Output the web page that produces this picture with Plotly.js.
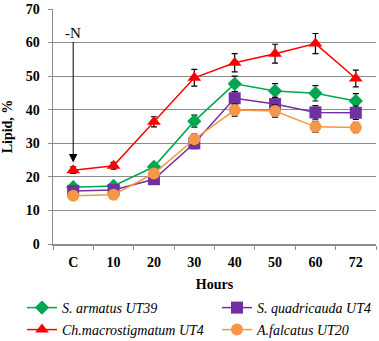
<!DOCTYPE html>
<html>
<head>
<meta charset="utf-8">
<script src="https://cdn.plot.ly/plotly-3.0.1.min.js"></script>
<style>html,body{margin:0;padding:0;background:#fff;}#chart{width:379px;height:341px;}</style>
</head>
<body>
<div id="chart"></div>
<script>
var categories = ['C', '10', '20', '30', '40', '50', '60', '72'];
var seriesNames = ['S. armatus UT39', 'S. quadricauda UT4', 'Ch.macrostigmatum UT4', 'A.falcatus UT20'];
var armatus = [16.9, 17.3, 23.0, 36.6, 47.7, 45.6, 44.9, 42.6];
var armatusErr = [0.6, 0.6, 0.8, 1.8, 2.3, 2.2, 2.3, 2.2];
var quadricauda = [15.8, 16.1, 19.3, 30.0, 43.4, 41.7, 39.2, 39.1];
var quadricaudaErr = [0.8, 0.8, 0.8, 1.6, 2.0, 2.0, 2.0, 2.0];
var macro = [22.0, 23.3, 36.4, 49.5, 54.0, 56.7, 59.7, 49.3];
var macroErr = [1.0, 1.0, 1.5, 2.5, 2.7, 2.8, 3.0, 2.5];
var falcatus = [14.4, 14.7, 21.0, 31.2, 39.9, 39.6, 34.9, 34.7];
var falcatusErr = [0.7, 0.7, 0.8, 1.5, 1.8, 1.8, 1.6, 1.5];

var colors = ['#00A651', '#7030A0', '#FF0000', '#F79646'];
var symbols = ['diamond', 'square', 'triangle-up', 'circle'];
var sizes = [11, 12, 12, 12];
var ys = [armatus, quadricauda, macro, falcatus];
var errs = [armatusErr, quadricaudaErr, macroErr, falcatusErr];
var legendIds = ['legend', 'legend2', 'legend3', 'legend4'];

var traces = ys.map(function(y, i) {
  return {
    type: 'scatter', mode: 'lines+markers',
    x: categories, y: y, name: seriesNames[i],
    legend: legendIds[i],
    line: {color: colors[i], width: 1.5},
    marker: {color: colors[i], symbol: symbols[i], size: sizes[i]},
    error_y: {type: 'data', array: errs[i], visible: true, color: '#000', thickness: 1.2, width: 3}
  };
});

var tickFont = {family: 'Liberation Serif', size: 14, color: '#000', weight: 'bold'};
var legendFont = {family: 'Liberation Serif', size: 14, style: 'italic', color: '#000'};
function legendAt(xpx, ypx) {
  return {
    orientation: 'h', xref: 'container', yref: 'container',
    x: xpx / 379, y: 1 - ypx / 341, xanchor: 'left', yanchor: 'middle',
    itemwidth: 30, font: legendFont, bgcolor: 'rgba(0,0,0,0)', borderwidth: 0
  };
}

var layout = {
  width: 379, height: 341,
  margin: {l: 53, r: 3, t: 9, b: 97},
  paper_bgcolor: '#fff', plot_bgcolor: '#fff',
  showlegend: true,
  font: {family: 'Liberation Serif', color: '#000'},
  xaxis: {
    type: 'category', range: [-0.5, 7.5],
    tickfont: tickFont,
    showgrid: false, zeroline: false,
    showline: true, linecolor: '#8c8c8c', linewidth: 1.5,
    ticks: 'outside', tickson: 'boundaries', ticklen: 4, tickcolor: '#8c8c8c',
    ticklabelstandoff: 5,
    title: {text: 'Hours', font: {family: 'Liberation Serif', size: 14, weight: 'bold', color: '#000'}, standoff: 12}
  },
  yaxis: {
    range: [0, 70], dtick: 10,
    tickfont: tickFont,
    showgrid: true, gridcolor: '#8c8c8c', gridwidth: 1.2,
    zeroline: false,
    showline: true, linecolor: '#8c8c8c', linewidth: 1.5,
    ticks: 'outside', ticklen: 4, tickcolor: '#8c8c8c',
    ticklabelstandoff: 5,
    title: {text: 'Lipid, %', font: {family: 'Liberation Serif', size: 14, weight: 'bold', color: '#000'}, standoff: 10}
  },
  legend: legendAt(22, 308),
  legend2: legendAt(217, 308),
  legend3: legendAt(22, 330),
  legend4: legendAt(217, 330),
  annotations: [{
    x: 'C', y: 24.3, xref: 'x', yref: 'y',
    ax: 'C', ay: 63, axref: 'x', ayref: 'y',
    text: '-N', showarrow: true,
    arrowhead: 2, arrowsize: 1.7, arrowwidth: 1, arrowcolor: '#000',
    font: {family: 'Liberation Serif', size: 15, color: '#000'}
  }]
};

Plotly.newPlot('chart', traces, layout, {displayModeBar: false, staticPlot: true});
</script>
</body>
</html>
